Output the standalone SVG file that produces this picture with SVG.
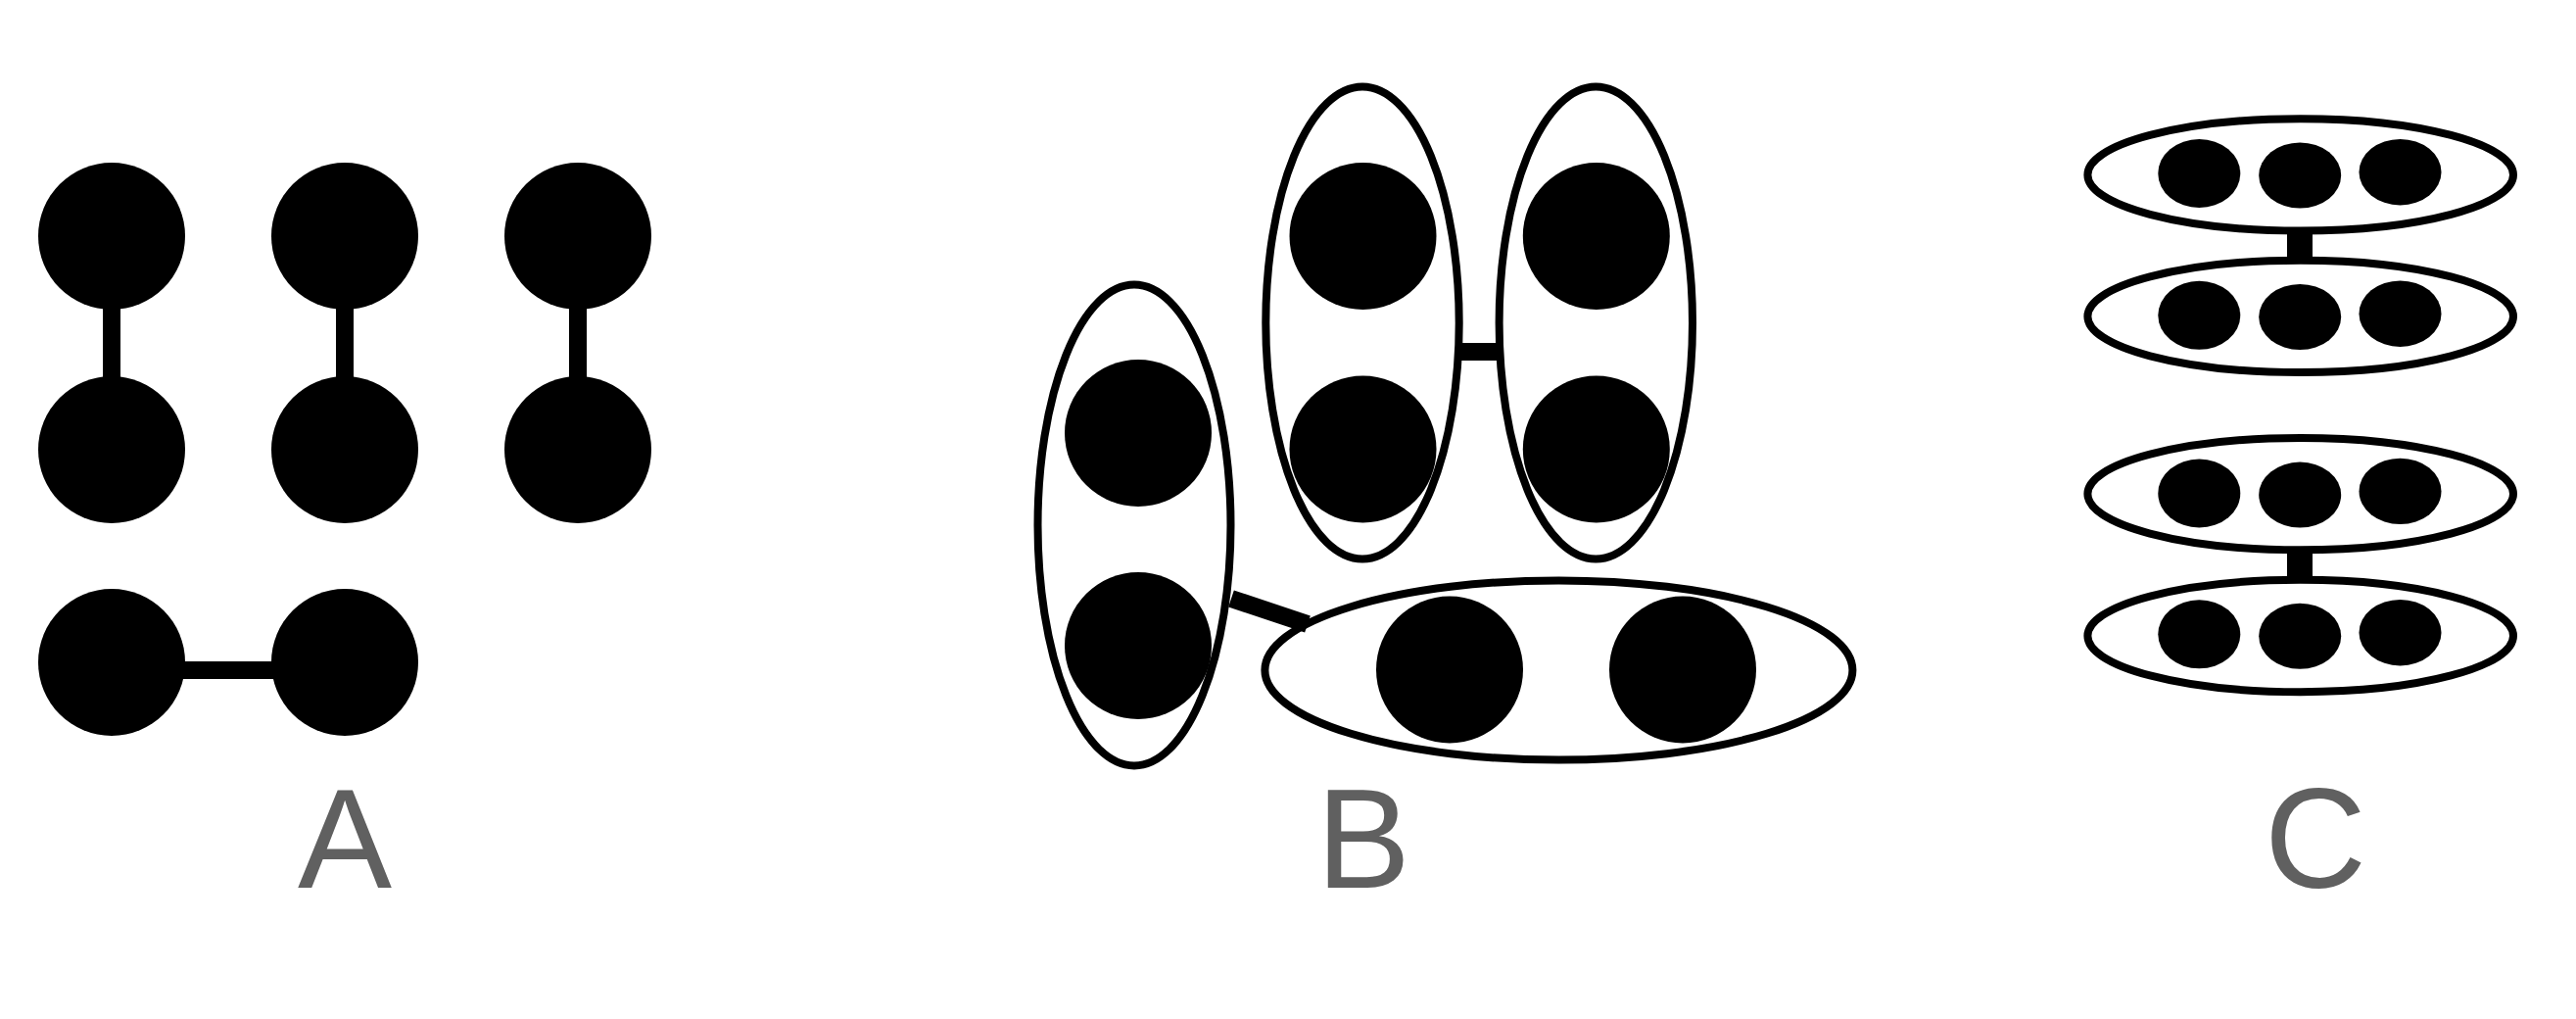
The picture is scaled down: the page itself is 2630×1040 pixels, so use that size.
<svg xmlns="http://www.w3.org/2000/svg" width="2630" height="1040" viewBox="0 0 2630 1040">
<style>
.dot{fill:#000}
.grp{fill:none;stroke:#000;stroke-width:8}
.edge{stroke:#000;stroke-width:18;stroke-linecap:butt;fill:none}
.lbl{font-family:"Liberation Sans",Arial,sans-serif;font-size:144px;fill:#606060;text-anchor:middle}
</style>
<rect width="2630" height="1040" fill="#fff"/>
<g id="connectors">
<line class="edge" x1="114" y1="241" x2="114" y2="459"/>
<line class="edge" x1="352" y1="241" x2="352" y2="459"/>
<line class="edge" x1="590" y1="241" x2="590" y2="459"/>
<line class="edge" x1="114" y1="684" x2="352" y2="684"/>
<line class="edge" x1="1488" y1="359" x2="1533" y2="359"/>
<line class="edge" x1="1257" y1="611" x2="1335" y2="637"/>
<rect x="2335" y="238" width="26" height="31" fill="#000"/>
<rect x="2335" y="561" width="26" height="34" fill="#000"/>
</g>
<g id="A">
<circle id="a1" class="dot" cx="114" cy="241" r="75"/>
<circle id="a2" class="dot" cx="114" cy="459" r="75"/>
<circle id="a3" class="dot" cx="352" cy="241" r="75"/>
<circle id="a4" class="dot" cx="352" cy="459" r="75"/>
<circle id="a5" class="dot" cx="590" cy="241" r="75"/>
<circle id="a6" class="dot" cx="590" cy="459" r="75"/>
<circle id="a7" class="dot" cx="114" cy="676" r="75"/>
<circle id="a8" class="dot" cx="352" cy="676" r="75"/>
<text class="lbl" x="352" y="906">A</text>
</g>
<g id="B">
<g id="b-left">
<ellipse class="grp" cx="1158" cy="536" rx="98.5" ry="245.5"/>
<circle class="dot" cx="1162" cy="442" r="75"/>
<circle class="dot" cx="1162" cy="659" r="75"/>
</g>
<g id="b-mid">
<ellipse class="grp" cx="1391" cy="329.5" rx="98.7" ry="241"/>
<circle class="dot" cx="1391.5" cy="241" r="75"/>
<circle class="dot" cx="1391.5" cy="458.5" r="75"/>
</g>
<g id="b-right">
<ellipse class="grp" cx="1629.3" cy="329.5" rx="98.7" ry="241"/>
<circle class="dot" cx="1629.8" cy="241" r="75"/>
<circle class="dot" cx="1629.8" cy="458.5" r="75"/>
</g>
<g id="b-bottom">
<ellipse class="grp" cx="1591.4" cy="684" rx="300" ry="91.6"/>
<circle class="dot" cx="1480" cy="683.5" r="75"/>
<circle class="dot" cx="1718" cy="683.5" r="75"/>
</g>
<text class="lbl" x="1392" y="906">B</text>
</g>
<g id="C">
<g id="c1">
<ellipse class="grp" cx="2348.7" cy="178.4" rx="217.3" ry="57.2"/>
<ellipse class="dot" cx="2245.3" cy="177" rx="42" ry="35"/>
<ellipse class="dot" cx="2348.2" cy="179" rx="42" ry="33.5"/>
<ellipse class="dot" cx="2450.5" cy="175.7" rx="42" ry="33.7"/>
</g>
<g id="c2">
<ellipse class="grp" cx="2348.7" cy="322.9" rx="217.3" ry="57.2"/>
<ellipse class="dot" cx="2245.3" cy="321.8" rx="42" ry="35"/>
<ellipse class="dot" cx="2348.2" cy="323.5" rx="42" ry="33.5"/>
<ellipse class="dot" cx="2450.5" cy="320.2" rx="42" ry="33.7"/>
</g>
<g id="c3">
<ellipse class="grp" cx="2348.7" cy="504.1" rx="217.3" ry="57.2"/>
<ellipse class="dot" cx="2245.3" cy="503.5" rx="42" ry="35"/>
<ellipse class="dot" cx="2348.2" cy="505.1" rx="42" ry="33.5"/>
<ellipse class="dot" cx="2450.5" cy="501.4" rx="42" ry="33.7"/>
</g>
<g id="c4">
<ellipse class="grp" cx="2348.7" cy="649" rx="217.3" ry="57.2"/>
<ellipse class="dot" cx="2245.3" cy="647.3" rx="42" ry="35"/>
<ellipse class="dot" cx="2348.2" cy="649.2" rx="42" ry="33.5"/>
<ellipse class="dot" cx="2450.5" cy="645.7" rx="42" ry="33.7"/>
</g>
<text class="lbl" x="2364" y="906">C</text>
</g>
</svg>
